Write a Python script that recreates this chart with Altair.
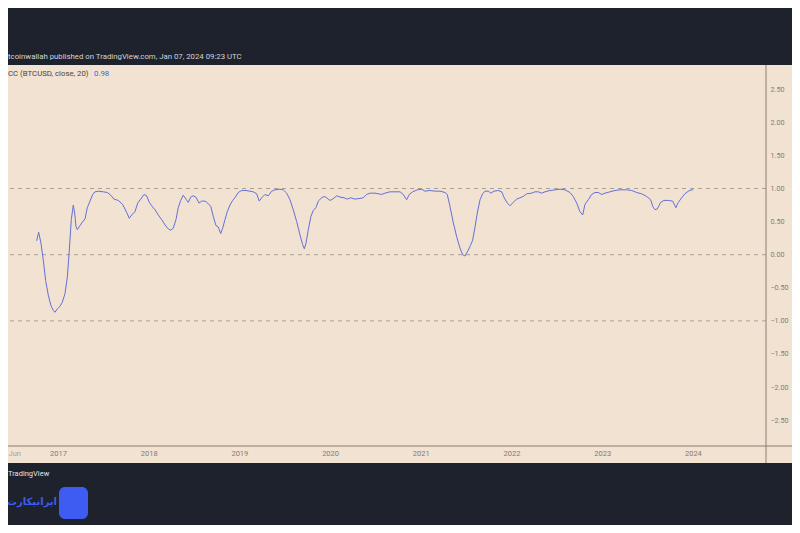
import altair as alt
import pandas as pd

# decimal years
years = [
    2016.765, 2016.787, 2016.813, 2016.838, 2016.864, 2016.893, 2016.923, 2016.948, 2016.967, 2016.992,
    2017.022, 2017.047, 2017.077, 2017.103, 2017.125, 2017.147, 2017.169, 2017.184, 2017.198, 2017.213,
    2017.243, 2017.268, 2017.298, 2017.323, 2017.353, 2017.383, 2017.408, 2017.444, 2017.499, 2017.544,
    2017.581, 2017.617, 2017.665, 2017.713, 2017.757, 2017.786, 2017.813, 2017.849, 2017.879, 2017.912,
    2017.948, 2017.978, 2018.007, 2018.033, 2018.069, 2018.106, 2018.143, 2018.180, 2018.216, 2018.243,
    2018.271, 2018.301, 2018.326, 2018.353, 2018.381, 2018.411, 2018.437, 2018.463, 2018.492, 2018.521,
    2018.555, 2018.584, 2018.621, 2018.650, 2018.684, 2018.712, 2018.742, 2018.767, 2018.794, 2018.816,
    2018.841, 2018.867, 2018.896, 2018.926, 2018.951, 2018.988, 2019.025, 2019.073, 2019.117, 2019.153,
    2019.191, 2019.219, 2019.246, 2019.282, 2019.319, 2019.356, 2019.392, 2019.448, 2019.484, 2019.521,
    2019.558, 2019.594, 2019.632, 2019.668, 2019.698, 2019.716, 2019.734, 2019.760, 2019.789, 2019.815,
    2019.844, 2019.870, 2019.907, 2019.936, 2019.962, 2019.999, 2020.029, 2020.073, 2020.109, 2020.153,
    2020.190, 2020.227, 2020.274, 2020.330, 2020.366, 2020.403, 2020.440, 2020.495, 2020.531, 2020.569,
    2020.605, 2020.660, 2020.715, 2020.771, 2020.807, 2020.844, 2020.873, 2020.911, 2020.961, 2021.010,
    2021.046, 2021.101, 2021.156, 2021.212, 2021.267, 2021.292, 2021.322, 2021.359, 2021.396, 2021.432,
    2021.462, 2021.487, 2021.524, 2021.548, 2021.572, 2021.597, 2021.623, 2021.653, 2021.682, 2021.708,
    2021.744, 2021.774, 2021.807, 2021.854, 2021.892, 2021.920, 2021.954, 2021.983, 2022.020, 2022.057,
    2022.094, 2022.130, 2022.167, 2022.223, 2022.259, 2022.295, 2022.333, 2022.369, 2022.424, 2022.480,
    2022.535, 2022.590, 2022.645, 2022.681, 2022.719, 2022.755, 2022.785, 2022.810, 2022.847, 2022.884,
    2022.920, 2022.957, 2022.994, 2023.031, 2023.086, 2023.141, 2023.196, 2023.270, 2023.325, 2023.380,
    2023.435, 2023.490, 2023.535, 2023.557, 2023.582, 2023.607, 2023.645, 2023.681, 2023.729, 2023.777,
    2023.813, 2023.839, 2023.876, 2023.913, 2023.949, 2023.987, 2024.004,
]

cc_values = [
    0.21, 0.34, 0.17, -0.08, -0.39, -0.61, -0.77, -0.84, -0.87, -0.82,
    -0.78, -0.72, -0.59, -0.34, 0.07, 0.53, 0.75, 0.63, 0.43, 0.38,
    0.44, 0.49, 0.54, 0.71, 0.81, 0.91, 0.95, 0.96, 0.95, 0.94,
    0.90, 0.84, 0.82, 0.76, 0.64, 0.55, 0.60, 0.65, 0.78, 0.84,
    0.91, 0.89, 0.79, 0.74, 0.68, 0.60, 0.53, 0.45, 0.39, 0.37,
    0.40, 0.53, 0.71, 0.82, 0.90, 0.84, 0.79, 0.87, 0.89, 0.87,
    0.78, 0.81, 0.81, 0.78, 0.73, 0.58, 0.44, 0.42, 0.32, 0.40,
    0.53, 0.65, 0.75, 0.82, 0.86, 0.94, 0.97, 0.97, 0.96, 0.95,
    0.92, 0.81, 0.86, 0.91, 0.89, 0.96, 0.98, 0.99, 0.98, 0.93,
    0.83, 0.68, 0.50, 0.30, 0.15, 0.09, 0.17, 0.38, 0.58, 0.67,
    0.71, 0.81, 0.86, 0.88, 0.86, 0.82, 0.84, 0.89, 0.87, 0.86,
    0.84, 0.86, 0.84, 0.85, 0.86, 0.91, 0.93, 0.93, 0.92, 0.91,
    0.93, 0.95, 0.95, 0.95, 0.91, 0.83, 0.91, 0.95, 0.98, 0.99,
    0.96, 0.97, 0.96, 0.96, 0.94, 0.91, 0.73, 0.48, 0.27, 0.10,
    0.00, -0.02, 0.07, 0.14, 0.22, 0.41, 0.63, 0.83, 0.92, 0.96,
    0.96, 0.93, 0.96, 0.97, 0.95, 0.86, 0.78, 0.74, 0.79, 0.84,
    0.86, 0.88, 0.92, 0.93, 0.95, 0.95, 0.93, 0.95, 0.97, 0.98,
    0.99, 0.98, 0.94, 0.88, 0.78, 0.65, 0.60, 0.76, 0.83, 0.91,
    0.94, 0.94, 0.91, 0.93, 0.95, 0.97, 0.98, 0.98, 0.97, 0.94,
    0.92, 0.88, 0.83, 0.73, 0.68, 0.69, 0.79, 0.82, 0.82, 0.81,
    0.71, 0.79, 0.86, 0.92, 0.96, 0.98, 0.98,
]

levels = [1.0, 0.0, -1.0]
x_ticks = [2016.449, 2017, 2018, 2019, 2020, 2021, 2022, 2023, 2024]
y_ticks = [-2.5, -2.0, -1.5, -1.0, -0.5, 0.0, 0.5, 1.0, 1.5, 2.0, 2.5]

title_text = "tcoinwallah published on TradingView.com, Jan 07, 2024 09:23 UTC"
legend_text = "CC (BTCUSD, close, 20)"
last_value_text = "0.98"

DARK = "#1e222d"
BEIGE = "#f1e2d2"
LINE = "#6370d8"
AXIS_LINE = "#8a7e72"
LABEL = "#837c75"
FONT = "Roboto"

PLOT_W = 758
PLOT_H = 381
TOTAL_W = 784
TOTAL_H = 517

df = pd.DataFrame({"t": years, "cc": cc_values})
lv = pd.DataFrame({"cc": levels})
one = alt.Data(values=[{}])

x_enc = alt.X(
    "t:Q",
    scale=alt.Scale(domain=[2016.449, 2024.806], nice=False, zero=False),
    axis=alt.Axis(
        values=x_ticks,
        labelExpr="datum.value < 2016.9 ? 'Jun' : format(datum.value, 'd')",
        labelFlush=True, ticks=False, domain=False, grid=False,
        labelFontSize=7.5, labelFont=FONT,
        labelColor={"condition": {"test": "datum.value < 2016.9", "value": "#aaa197"}, "value": LABEL},
        labelPadding=3, title=None, zindex=1,
    ),
)
y_enc = alt.Y(
    "cc:Q",
    scale=alt.Scale(domain=[-2.89, 2.866], nice=False, zero=False),
    axis=alt.Axis(
        orient="right", values=y_ticks, format=".2f",
        ticks=False, tickSize=0, domain=False, grid=False,
        labelFontSize=7.2, labelColor=LABEL, labelFont=FONT,
        labelPadding=4, labelAlign="left", title=None, zindex=1,
    ),
)

bg = alt.Chart(one).mark_rect(color=BEIGE).encode(
    x=alt.value(-8), x2=alt.value(TOTAL_W + 8), y=alt.value(0), y2=alt.value(398)
)

dashed = alt.Chart(lv).mark_rule(color="#a9a095", strokeDash=[4, 4], strokeWidth=1).encode(y=y_enc)

line = alt.Chart(df).mark_line(color=LINE, strokeWidth=1).encode(x=x_enc, y=y_enc)

vaxis = alt.Chart(one).mark_rule(color=AXIS_LINE, strokeWidth=1).encode(
    x=alt.value(PLOT_W), y=alt.value(0), y2=alt.value(398)
)
haxis = alt.Chart(one).mark_rule(color=AXIS_LINE, strokeWidth=1).encode(
    x=alt.value(-8), x2=alt.value(TOTAL_W + 8), y=alt.value(PLOT_H)
)

title = alt.Chart(one).mark_text(
    align="left", baseline="middle", font=FONT, fontSize=7.8, color="#d1d4dc"
).encode(x=alt.value(0), y=alt.value(-8), text=alt.value(title_text))

legend = alt.Chart(one).mark_text(
    align="left", baseline="middle", font=FONT, fontSize=7.8, color="#4a4540"
).encode(x=alt.value(0), y=alt.value(9), text=alt.value(legend_text))

legend_val = alt.Chart(one).mark_text(
    align="left", baseline="middle", font=FONT, fontSize=7.8, color="#3d5afe"
).encode(x=alt.value(86), y=alt.value(9), text=alt.value(last_value_text))

tv = alt.Chart(one).mark_text(
    align="left", baseline="middle", font=FONT, fontSize=7.5, color="#e0e3eb"
).encode(x=alt.value(0), y=alt.value(409), text=alt.value("TradingView"))

brand = alt.Chart(one).mark_text(
    align="center", baseline="middle", font="DejaVu Sans", fontSize=10, fontWeight="bold", color="#3f5cf2"
).encode(x=alt.value(24), y=alt.value(437), text=alt.value("ایرانیکارت"))

icon = alt.Chart(one).mark_rect(color="#3f5cf2", cornerRadius=6).encode(
    x=alt.value(51), x2=alt.value(80), y=alt.value(422), y2=alt.value(454)
)

chart = alt.layer(
    bg, dashed, line, vaxis, haxis, title, legend, legend_val, tv, icon, brand
).properties(
    width=PLOT_W, height=PLOT_H,
    padding={"left": 0, "top": 57, "right": TOTAL_W - PLOT_W, "bottom": TOTAL_H - 57 - PLOT_H},
    autosize=alt.AutoSizeParams(type="none"),
    background=DARK,
).configure_view(stroke=None)

chart.save("out.html", embed_options={"renderer": "svg", "actions": False})
